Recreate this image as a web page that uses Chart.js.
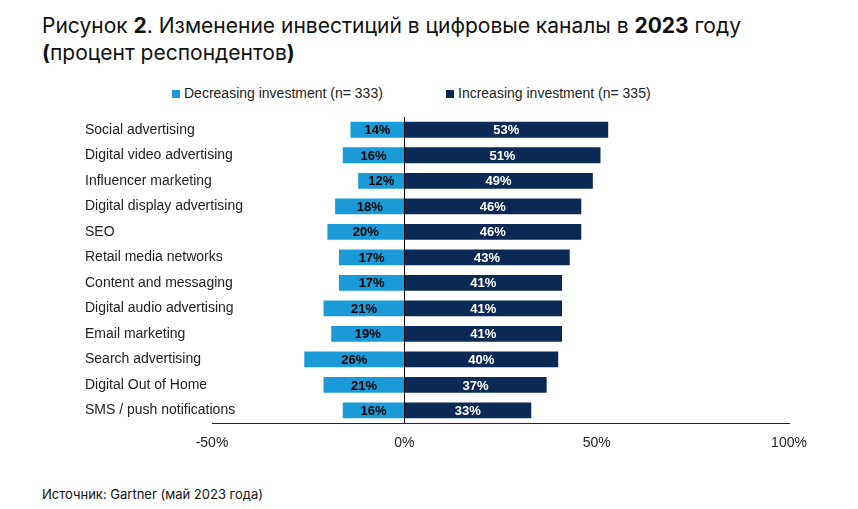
<!DOCTYPE html>
<html><head><meta charset="utf-8">
<script src="https://cdn.jsdelivr.net/npm/chart.js@4"></script>
<style>
body{margin:0;width:858px;height:509px;position:relative;font-family:Inter,"Noto Sans",sans-serif;background:#fff;overflow:hidden}
#t{position:absolute;left:42px;top:12px;font-size:21px;line-height:27px;color:#111}
#src{position:absolute;left:42px;top:486px;font-size:13px;color:#111}
.lg{position:absolute;top:85px;font-size:14px;color:#222;font-family:Arial,"Liberation Sans",sans-serif}
.lg i{display:inline-block;width:8px;height:8px;margin-right:4px}
canvas{position:absolute;left:0;top:0}
</style></head><body>
<div id="t">Рисунок <b>2</b>. Изменение инвестиций в цифровые каналы в <b>2023</b> году<br><b>(</b>процент респондентов<b>)</b></div>
<div class="lg" style="left:172px"><i style="background:#1A9AD7"></i>Decreasing investment (n= 333)</div>
<div class="lg" style="left:446px"><i style="background:#0A2A55"></i>Increasing investment (n= 335)</div>
<div id="src">Источник: Gartner (май 2023 года)</div>
<canvas id="c" width="858" height="509"></canvas>
<script>
const categories=["Social advertising","Digital video advertising","Influencer marketing","Digital display advertising","SEO","Retail media networks","Content and messaging","Digital audio advertising","Email marketing","Search advertising","Digital Out of Home","SMS / push notifications"];
const decreasing=[14,16,12,18,20,17,17,21,19,26,21,16];
const increasing=[53,51,49,46,46,43,41,41,41,40,37,33];
const xTicks=[-50,0,50,100];
const plug={id:'p',afterDatasetsDraw(ch){
 const c=ch.ctx,y=ch.scales.y,x=ch.scales.x;
 c.save();
 c.strokeStyle='#000';c.lineWidth=1;c.beginPath();
 const x0=Math.round(x.getPixelForValue(0))+0.5;c.moveTo(x0,ch.chartArea.top);c.lineTo(x0,ch.chartArea.bottom);c.stroke();
 c.font='14px Arial, "Liberation Sans", sans-serif';c.fillStyle='#222';c.textBaseline='middle';c.textAlign='left';
 categories.forEach((l,i)=>c.fillText(l,85,y.getPixelForValue(i)));
 c.font='bold 13px Arial, "Liberation Sans", sans-serif';c.textAlign='center';
 ch.data.datasets.forEach((ds,di)=>{ch.getDatasetMeta(di).data.forEach((b,i)=>{
  c.fillStyle=di==0?'#000':'#fff';
  c.fillText(Math.abs(ds.data[i])+'%',(b.x+b.base)/2,b.y+1);});});
 c.restore();}};
new Chart(document.getElementById('c'),{type:'bar',
 data:{labels:categories,datasets:[
  {data:decreasing.map(v=>-v),backgroundColor:'#1A9AD7'},
  {data:increasing,backgroundColor:'#0A2A55'}]},
 options:{indexAxis:'y',responsive:false,animation:false,
  layout:{padding:{left:212,right:69,top:117,bottom:45}},
  datasets:{bar:{barPercentage:0.62,categoryPercentage:1}},
  plugins:{legend:{display:false},tooltip:{enabled:false}},
  scales:{
   y:{display:false,stacked:true},
   x:{stacked:true,min:-50,max:100,afterBuildTicks:a=>{a.ticks=xTicks.map(v=>({value:v}))},
    grid:{display:false,drawTicks:false},border:{color:'#0A2A55',width:1},
    ticks:{padding:12,color:'#222',font:{size:14,family:'Arial, "Liberation Sans", sans-serif'},callback:v=>v+'%'}}}},
 plugins:[plug]});
</script></body></html>
